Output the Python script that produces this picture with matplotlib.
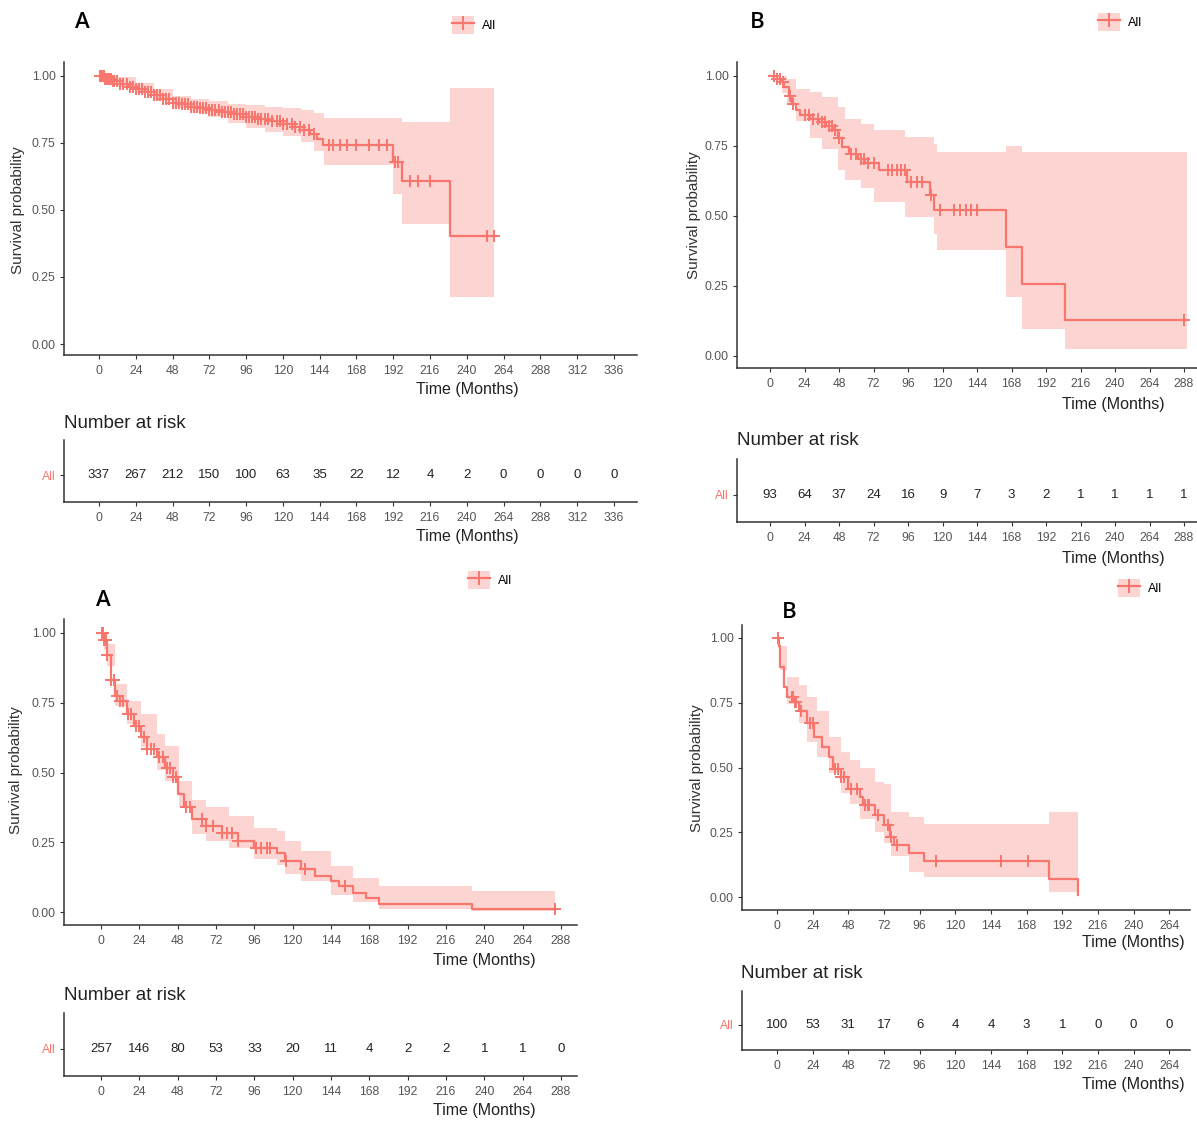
import numpy as np
import matplotlib
matplotlib.use('Agg')
import matplotlib.pyplot as plt
from matplotlib import font_manager
from matplotlib.patches import Patch
from matplotlib.lines import Line2D

W, H = 1197, 1121
RED = '#F8766D'

names = {f.name for f in font_manager.fontManager.ttflist}
NARROW = 'Liberation Sans Narrow' if 'Liberation Sans Narrow' in names else 'Liberation Sans'

# ---- panel A (top left) ----
a1_t = [0, 4, 9, 14, 19, 24, 30, 36, 42, 48, 54, 60, 66, 72, 80, 88, 96, 104, 112, 120, 128, 134, 138, 142, 146, 192, 198, 229, 259]
a1_s = [1.00, 0.99, 0.98, 0.97, 0.96, 0.95, 0.94, 0.93, 0.915, 0.90, 0.895, 0.885, 0.88, 0.873, 0.865, 0.858, 0.848, 0.84, 0.832, 0.82, 0.81, 0.80, 0.785, 0.765, 0.742, 0.68, 0.607, 0.404, 0.404]
a1_bt = [0, 6, 12, 24, 36, 48, 60, 72, 84, 96, 108, 120, 132, 140, 147, 192, 198, 229, 258]
a1_hi = [1.0, 1.0, 0.995, 0.975, 0.95, 0.925, 0.915, 0.905, 0.897, 0.89, 0.885, 0.88, 0.872, 0.86, 0.842, 0.842, 0.83, 0.954, 0.954]
a1_lo = [1.0, 0.975, 0.96, 0.935, 0.905, 0.88, 0.86, 0.845, 0.825, 0.805, 0.79, 0.775, 0.755, 0.72, 0.667, 0.561, 0.449, 0.175, 0.175]
a1_cens = [1, 2, 3, 4, 5, 6, 7, 8, 9, 10, 12, 14, 16, 18, 20, 22, 24, 26, 28, 30, 32, 34, 36, 38, 40, 42, 44, 46, 48,
           50, 52, 54, 56, 58, 60, 62, 64, 66, 68, 70, 72, 74, 76, 78, 80, 82, 84, 86, 88, 90, 92, 94, 96, 98, 100,
           102, 104, 106, 108, 110, 113, 116, 118, 120, 123, 126, 128, 131, 134, 137, 140, 150, 153, 157, 162,
           168, 176, 183, 188, 193, 195, 203, 208, 216, 253, 258]
a1_ticks = [0, 24, 48, 72, 96, 120, 144, 168, 192, 216, 240, 264, 288, 312, 336]
a1_risk = [337, 267, 212, 150, 100, 63, 35, 22, 12, 4, 2, 0, 0, 0, 0]

# ---- panel B (top right) ----
b1_t = [0, 5, 8, 10, 13, 15, 18, 21, 28, 34, 39, 44, 47, 50, 55, 61, 66, 76, 95, 111, 114, 164, 175, 205, 289]
b1_s = [1.0, 0.99, 0.98, 0.96, 0.93, 0.90, 0.877, 0.86, 0.847, 0.835, 0.823, 0.806, 0.78, 0.746, 0.722, 0.705, 0.69, 0.663, 0.62, 0.574, 0.52, 0.389, 0.258, 0.13, 0.13]
b1_bt = [0, 8, 12, 18, 28, 36, 47, 52, 63, 72, 94, 114, 116, 164, 175, 205, 290]
b1_hi = [1.0, 1.0, 0.99, 0.955, 0.943, 0.925, 0.889, 0.847, 0.83, 0.806, 0.782, 0.758, 0.728, 0.75, 0.73, 0.73, 0.73]
b1_lo = [1.0, 0.94, 0.9, 0.84, 0.78, 0.74, 0.663, 0.63, 0.60, 0.55, 0.496, 0.437, 0.377, 0.21, 0.097, 0.025, 0.025]
b1_cens = [3, 5, 7, 9, 14, 16, 24, 27, 30, 33, 36, 38, 41, 43, 45, 48, 56, 60, 63, 65, 68, 72, 82, 85, 88, 91, 94,
           98, 102, 106, 112, 118, 128, 132, 136, 140, 144, 288]
b1_ticks = [0, 24, 48, 72, 96, 120, 144, 168, 192, 216, 240, 264, 288]
b1_risk = [93, 64, 37, 24, 16, 9, 7, 3, 2, 1, 1, 1, 1]

# ---- panel A (bottom left) ----
a2_t = [0, 1.7, 3.6, 6, 8.5, 12, 16, 20.5, 25, 29, 35, 40, 45, 48.4, 52, 57, 66, 76, 86, 96, 110, 115, 125, 134, 144, 149, 158, 166, 174, 232, 284]
a2_s = [1.0, 0.974, 0.92, 0.83, 0.776, 0.758, 0.71, 0.668, 0.626, 0.584, 0.554, 0.518, 0.483, 0.423, 0.375, 0.333, 0.309, 0.285, 0.255, 0.231, 0.213, 0.183, 0.153, 0.129, 0.111, 0.093, 0.069, 0.051, 0.03, 0.012, 0.012]
a2_bt = [0, 2, 4, 8.5, 16, 25, 35, 40, 49, 57, 66, 80, 96, 110, 115, 125, 144, 158, 174, 232, 284]
a2_hi = [1.0, 1.0, 0.96, 0.818, 0.758, 0.71, 0.638, 0.596, 0.47, 0.40, 0.375, 0.345, 0.303, 0.291, 0.255, 0.219, 0.165, 0.123, 0.093, 0.075, 0.075]
a2_lo = [1.0, 0.94, 0.88, 0.74, 0.674, 0.59, 0.51, 0.47, 0.375, 0.279, 0.255, 0.231, 0.189, 0.17, 0.135, 0.11, 0.063, 0.035, 0.01, 0.003, 0.003]
a2_cens = [0.5, 1, 2, 3, 4, 6, 8, 10, 12, 14, 17, 19, 22, 24, 27, 29, 31, 33, 36, 39, 41, 43, 45, 47, 53, 56, 63, 66,
           70, 76, 79, 82, 86, 97, 100, 104, 106, 116, 128, 153, 284]
a2_ticks = [0, 24, 48, 72, 96, 120, 144, 168, 192, 216, 240, 264, 288]
a2_risk = [257, 146, 80, 53, 33, 20, 11, 4, 2, 2, 1, 1, 0]

# ---- panel B (bottom right) ----
b2_t = [0, 1, 1.8, 4.4, 7, 12, 14.6, 20, 25, 30, 35, 37.7, 43, 48, 55.6, 58, 66, 72, 76, 79, 89, 99, 183, 202.5]
b2_s = [1.0, 0.97, 0.888, 0.81, 0.772, 0.753, 0.72, 0.67, 0.618, 0.579, 0.54, 0.495, 0.463, 0.418, 0.386, 0.354, 0.315, 0.277, 0.232, 0.2, 0.17, 0.141, 0.071, 0.006]
b2_bt = [0, 1.8, 7, 15, 20, 27, 35, 43, 49, 56, 66, 72, 77, 89, 99, 183, 202.5]
b2_hi = [1.0, 0.97, 0.85, 0.817, 0.772, 0.72, 0.618, 0.56, 0.528, 0.5, 0.444, 0.438, 0.328, 0.31, 0.283, 0.328, 0.328]
b2_lo = [1.0, 0.875, 0.745, 0.67, 0.60, 0.54, 0.48, 0.40, 0.36, 0.30, 0.25, 0.21, 0.16, 0.097, 0.077, 0.019, 0.019]
b2_cens = [0.5, 10, 11, 12, 13, 16, 22, 24, 39, 41, 43, 45, 50, 54, 59, 61, 62, 68, 75, 77, 81, 107, 151, 169]
b2_ticks = [0, 24, 48, 72, 96, 120, 144, 168, 192, 216, 240, 264]
b2_risk = [100, 53, 31, 17, 6, 4, 4, 3, 1, 0, 0, 0]


def rect(l, t, r, b):
    return [l / W, 1 - b / H, (r - l) / W, (b - t) / H]


def ftext(fig, x, y, s, **kw):
    fig.text(x / W, 1 - y / H, s, **kw)


def style_axis(ax):
    for side in ['top', 'right']:
        ax.spines[side].set_visible(False)
    for side in ['left', 'bottom']:
        ax.spines[side].set_color('#333333')
        ax.spines[side].set_linewidth(1.1)
    ax.tick_params(length=3, width=0.8, color='#333333', labelcolor='#555555', labelsize=8.7, pad=3)
    ax.tick_params(axis='x', pad=4.5)
    for lab in ax.get_xticklabels() + ax.get_yticklabels():
        lab.set_family(NARROW)


def km_panel(fig, box, xlim, ylim, ticks, t, s, bt, lo, hi, cens):
    ax = fig.add_axes(rect(*box))
    ax.fill_between(bt, lo, hi, step='post', color=RED, alpha=0.3, lw=0)
    ax.step(t, s, where='post', color=RED, lw=1.6)
    idx = np.searchsorted(t, cens, side='right') - 1
    ax.plot(cens, np.array(s)[idx], '+', color=RED, ms=9, mew=1.4)
    ax.set_xlim(*xlim)
    ax.set_ylim(*ylim)
    ax.set_xticks(ticks)
    ax.set_yticks([0, 0.25, 0.5, 0.75, 1.0])
    ax.set_yticklabels(['0.00', '0.25', '0.50', '0.75', '1.00'])
    style_axis(ax)
    return ax


def risk_panel(fig, box, xlim, ticks, counts):
    ax = fig.add_axes(rect(*box))
    ax.set_xlim(*xlim)
    ax.set_ylim(0, 1)
    ax.set_xticks(ticks)
    ax.set_yticks([0.43])
    ax.set_yticklabels(['All'])
    style_axis(ax)
    ax.get_yticklabels()[0].set_color(RED)
    for x, n in zip(ticks, counts):
        ax.text(x, 0.43, str(n), ha='center', va='center', fontsize=9.5, color='#222222', family=NARROW)
    return ax


def legend_at(fig, x, y):
    h = (Patch(facecolor=RED, alpha=0.3, edgecolor='none'),
         Line2D([], [], color=RED, lw=1.6, marker='+', ms=10, mew=1.4))
    fig.legend([h], ['All'], loc='center', bbox_to_anchor=(x / W, 1 - y / H), frameon=False,
               handlelength=1.8, handleheight=1.8, handletextpad=0.6,
               prop={'family': 'Liberation Sans', 'size': 9})


fig = plt.figure(figsize=(W / 100, H / 100), dpi=100)

panels = [
    dict(main=(64, 62, 637, 355), risk=(64, 440, 637, 502), xlim=(-22.8, 351), ylim=(-0.041, 1.052),
         ticks=a1_ticks, data=(a1_t, a1_s, a1_bt, a1_lo, a1_hi, a1_cens), counts=a1_risk,
         ylab=(18, 210), letter=('A', 82, 22), leg=(474, 25), tx=467, ty=(390, 537), title=(64, 423)),
    dict(main=(737, 62, 1197, 368), risk=(737, 459, 1197, 522), xlim=(-23, 297), ylim=(-0.043, 1.05),
         ticks=b1_ticks, data=(b1_t, b1_s, b1_bt, b1_lo, b1_hi, b1_cens), counts=b1_risk,
         ylab=(694, 215), letter=('B', 757, 22), leg=(1120, 22), tx=1113, ty=(405, 558), title=(737, 440)),
    dict(main=(64, 619, 577, 925), risk=(64, 1013, 577, 1076), xlim=(-23.2, 298), ylim=(-0.046, 1.05),
         ticks=a2_ticks, data=(a2_t, a2_s, a2_bt, a2_lo, a2_hi, a2_cens), counts=a2_risk,
         ylab=(16, 770), letter=('A', 103, 600), leg=(490, 580), tx=484, ty=(960, 1110), title=(64, 995)),
    dict(main=(742, 625, 1190, 910), risk=(742, 991, 1190, 1050), xlim=(-23.6, 278), ylim=(-0.05, 1.05),
         ticks=b2_ticks, data=(b2_t, b2_s, b2_bt, b2_lo, b2_hi, b2_cens), counts=b2_risk,
         ylab=(697, 768), letter=('B', 789, 613), leg=(1140, 588), tx=1133, ty=(943, 1085), title=(741, 974)),
]

for p in panels:
    km_panel(fig, p['main'], p['xlim'], p['ylim'], p['ticks'], *p['data'])
    risk_panel(fig, p['risk'], p['xlim'], p['ticks'], p['counts'])
    ftext(fig, p['ylab'][0], p['ylab'][1], 'Survival probability', rotation=90, ha='center', va='center',
          fontsize=11, color='#333333', family=NARROW)
    letter, lx, ly = p['letter']
    ftext(fig, lx, ly, letter, ha='center', va='center', fontsize=16, family='Open Sans', weight='semibold')
    legend_at(fig, *p['leg'])
    for y in p['ty']:
        ftext(fig, p['tx'], y, 'Time (Months)', ha='center', va='center', fontsize=11.5, color='#222222', family=NARROW)
    ftext(fig, p['title'][0], p['title'][1], 'Number at risk', ha='left', va='center', fontsize=13.5,
          color='#222222', family=NARROW)

fig.savefig('out.png', dpi=100)
